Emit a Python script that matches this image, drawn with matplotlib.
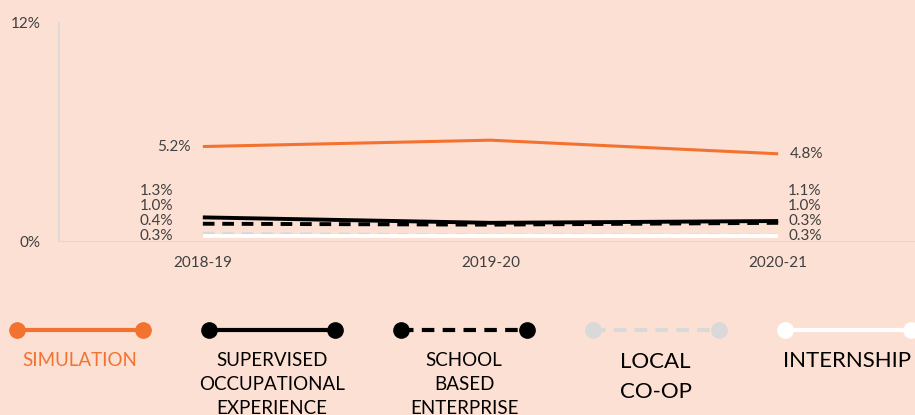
import matplotlib.pyplot as plt

plt.rcParams['font.family'] = ['Lato', 'DejaVu Sans']

years = ['2018-19', '2019-20', '2020-21']
simulation = [5.2, 5.55, 4.8]
supervised = [1.3, 1.0, 1.1]
school_based = [0.95, 0.9, 1.0]
local_coop = [0.4, 0.3, 0.3]
internship = [0.3, 0.3, 0.3]

bg = '#fce0d4'
orange = '#f37230'
grey_txt = '#404040'

series = [
    ('SIMULATION', simulation, orange, '-', 2.2, orange),
    ('SUPERVISED\nOCCUPATIONAL\nEXPERIENCE', supervised, 'black', '-', 2.8, 'black'),
    ('SCHOOL\nBASED\nENTERPRISE', school_based, 'black', (0, (3, 2)), 2.8, 'black'),
    ('LOCAL\nCO-OP', local_coop, '#d9d9d9', (0, (3, 2)), 2.8, 'black'),
    ('INTERNSHIP', internship, 'white', '-', 2.8, 'black'),
]
label_values = {
    'left': [1.3, 1.0, 0.4, 0.3],
    'right': [1.1, 1.0, 0.3, 0.3],
}

fig = plt.figure(figsize=(9.15, 4.15), dpi=100)
fig.patch.set_facecolor(bg)

ax = fig.add_axes([59 / 915, 1 - 241 / 415, 863 / 915, 218 / 415])
ax.set_facecolor(bg)
x = list(range(len(years)))
for i, (name, vals, col, ls, lw, tcol) in enumerate(series):
    ax.plot(x, vals, color=col, linestyle=ls, linewidth=lw, zorder=3 + i * 0.1,
            solid_capstyle='butt', dash_capstyle='butt')

ax.set_xlim(-0.5, 2.5)
ax.set_ylim(0, 12)
ax.set_yticks([0, 12])
ax.set_yticklabels(['0%', '12%'])
ax.set_xticks(x)
ax.set_xticklabels(years)
ax.tick_params(length=0, labelsize=11, labelcolor=grey_txt)
ax.tick_params(axis='y', pad=13)
ax.tick_params(axis='x', pad=11)
for s in ['top', 'right']:
    ax.spines[s].set_visible(False)
ax.spines['left'].set_color('#d9d9d9')
ax.spines['bottom'].set_color('#e8d6cd')
ax.spines['left'].set_linewidth(1.2)

lab_size = 11

# simulation end labels
ax.annotate(f'{simulation[0]:.1f}%', (0, simulation[0]), xytext=(-12, 0),
            textcoords='offset pixels', ha='right', va='center',
            fontsize=lab_size, color=grey_txt)
ax.annotate(f'{simulation[-1]:.1f}%', (2, simulation[-1]), xytext=(12, 0),
            textcoords='offset pixels', ha='left', va='center',
            fontsize=lab_size, color=grey_txt)

# stacked labels for the small series, pushed apart so they don't overlap
gap = 0.82
for side, xi, dx, ha in [('left', 0, -30, 'right'), ('right', 2, 10, 'left')]:
    vals = sorted(label_values[side])
    prev = None
    for v in vals:
        pos = v if prev is None else max(v, prev + gap)
        prev = pos
        ax.annotate(f'{v:.1f}%', (xi, pos), xytext=(dx, 0),
                    textcoords='offset pixels', ha=ha, va='center',
                    fontsize=lab_size, color=grey_txt)

# legend row
lax = fig.add_axes([0, 0, 1, 1 - 310 / 415])
lax.set_xlim(-80 / 192, 835 / 192)
lax.set_ylim(105, 0)
lax.axis('off')
for i, (name, vals, col, ls, lw, tcol) in enumerate(series):
    lax.plot([i - 0.33, i + 0.33], [20, 20], color=col, linestyle=ls,
             linewidth=3, marker='o', markersize=11, markevery=[0, 1],
             markerfacecolor=col, markeredgecolor=col)
    if name.startswith('LOCAL'):
        lax.text(i - 0.19, 42, name, ha='left', va='top', fontsize=16,
                 color=tcol, linespacing=1.6)
    elif name == 'INTERNSHIP':
        lax.text(i - 0.34, 41, name, ha='left', va='top', fontsize=16,
                 color=tcol)
    else:
        lax.text(i, 42, name, ha='center', va='top', fontsize=13.5,
                 color=tcol, linespacing=1.5, multialignment='center')

fig.savefig('out.png', dpi=100, facecolor=bg)
